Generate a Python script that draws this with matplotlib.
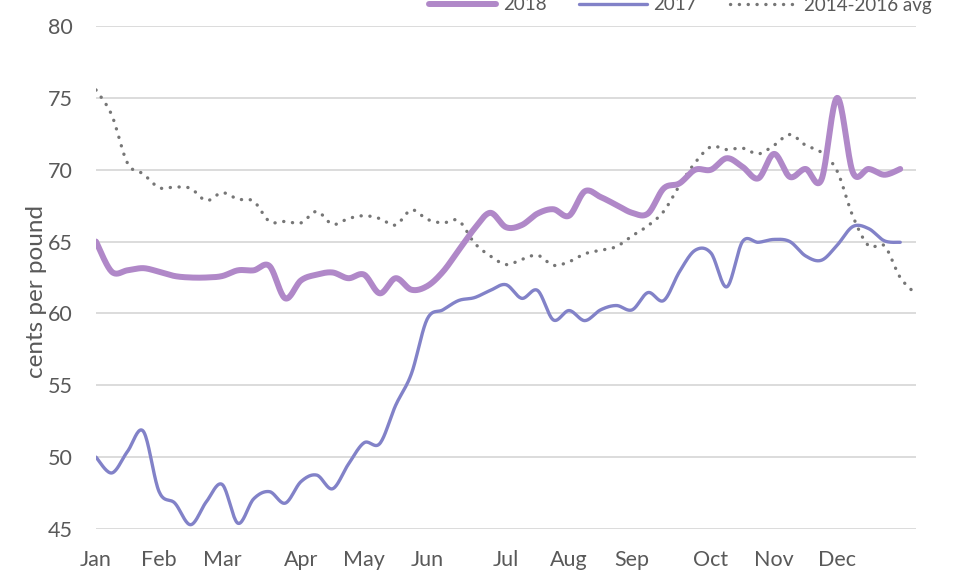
import numpy as np
import matplotlib
matplotlib.use("Agg")
import matplotlib.pyplot as plt

# ---- data (weekly, cents per pound) ----
month_labels = ["Jan", "Feb", "Mar", "Apr", "May", "Jun",
                "Jul", "Aug", "Sep", "Oct", "Nov", "Dec"]
month_weeks = [0, 4, 8, 13, 17, 21, 26, 30, 34, 39, 43, 47]

price_2018 = [65.0, 62.9, 63.0, 63.15, 62.9, 62.6, 62.5, 62.5, 62.6, 63.0,
              63.0, 63.3, 61.05, 62.3, 62.7, 62.85, 62.45, 62.7, 61.4, 62.45,
              61.65, 61.9, 62.9, 64.4, 65.9, 67.0, 66.0, 66.15, 66.95, 67.25,
              66.8, 68.5, 68.1, 67.55, 67.0, 66.95, 68.7, 69.05, 70.0, 70.0,
              70.8, 70.2, 69.4, 71.1, 69.5, 70.05, 69.3, 75.0, 69.8, 70.05,
              69.65, 70.05]

price_2017 = [50.0, 48.9, 50.4, 51.8, 47.6, 46.8, 45.3, 46.9, 48.1, 45.4,
              47.1, 47.6, 46.8, 48.3, 48.75, 47.8, 49.5, 51.0, 50.95, 53.6,
              55.8, 59.6, 60.25, 60.9, 61.1, 61.6, 62.0, 61.05, 61.6, 59.55,
              60.2, 59.5, 60.25, 60.55, 60.25, 61.45, 60.9, 62.9, 64.4, 64.2,
              61.85, 65.0, 64.95, 65.15, 65.0, 64.0, 63.7, 64.75, 66.05, 65.9,
              65.05, 64.95]

price_avg = [75.55, 73.8, 70.45, 69.7, 68.75, 68.8, 68.7, 67.85, 68.4, 67.95,
             67.8, 66.4, 66.4, 66.3, 67.1, 66.2, 66.6, 66.8, 66.6, 66.15,
             67.2, 66.55, 66.3, 66.45, 64.9, 64.0, 63.4, 63.75, 64.05, 63.35,
             63.6, 64.15, 64.4, 64.65, 65.4, 66.1, 67.1, 68.9, 70.5, 71.6,
             71.4, 71.5, 71.1, 71.7, 72.45, 71.7, 71.2, 69.9, 66.75, 64.7,
             64.7, 62.5, 61.35]


def smooth(y, n=20):
    """Excel-style smoothed line (Catmull-Rom Bezier) through the points."""
    y = np.asarray(y, float)
    x = np.arange(len(y), dtype=float)
    P = np.column_stack([x, y])
    Pe = np.vstack([P[0], P, P[-1]])
    t = np.linspace(0, 1, n, endpoint=False)[:, None]
    out = []
    for i in range(len(P) - 1):
        p0, p3 = Pe[i + 1], Pe[i + 2]
        c1 = p0 + (Pe[i + 2] - Pe[i]) / 6.0
        c2 = p3 - (Pe[i + 3] - Pe[i + 1]) / 6.0
        seg = ((1 - t) ** 3) * p0 + 3 * ((1 - t) ** 2) * t * c1 \
            + 3 * (1 - t) * t ** 2 * c2 + t ** 3 * p3
        out.append(seg)
    out.append(P[-1][None, :])
    out = np.vstack(out)
    return out[:, 0], out[:, 1]


plt.rcParams['font.family'] = ['Lato', 'DejaVu Sans']
text_col = '#595959'

fig = plt.figure(figsize=(9.55, 5.73), dpi=100)
ax = fig.add_axes([96 / 955, 1 - 529 / 573, 820 / 955, 503 / 573])

ax.set_ylim(45, 80)
ax.set_xlim(0, 52)
ax.set_yticks(np.arange(45, 81, 5))
ax.yaxis.grid(True, color='#d9d9d9', linewidth=1.3)
ax.set_axisbelow(True)
for s in ax.spines.values():
    s.set_visible(False)

xs, ys = smooth(price_avg)
ax.plot(xs, ys, color='#767676', linewidth=2.4, linestyle=(0, (0.05, 2.6)),
        dash_capstyle='round', label='2014-2016 avg', zorder=2)
xs, ys = smooth(price_2017)
ax.plot(xs, ys, color='#8282c8', linewidth=2.4, label='2017',
        solid_capstyle='round', zorder=3)
xs, ys = smooth(price_2018)
ax.plot(xs, ys, color='#b088c8', linewidth=4.3, label='2018',
        solid_capstyle='round', zorder=4)

ax.set_xticks(month_weeks)
ax.set_xticklabels(month_labels)
ax.tick_params(axis='both', length=0, labelsize=15.5, labelcolor=text_col)
ax.tick_params(axis='y', pad=16.5)
ax.tick_params(axis='x', pad=15)

ax.set_ylabel('cents per pound', fontsize=17.5, color=text_col)
ax.yaxis.set_label_coords(-0.0598, 0.473)

h, l = ax.get_legend_handles_labels()
order = [2, 1, 0]
fig.legend([h[i] for i in order], [l[i] for i in order], loc='center',
           bbox_to_anchor=(680 / 955, 1 - 5 / 573), ncol=3, frameon=False,
           fontsize=13.5, labelcolor=text_col, handlelength=3.6,
           handletextpad=0.35, columnspacing=1.75)

fig.savefig('out.png', dpi=100)
